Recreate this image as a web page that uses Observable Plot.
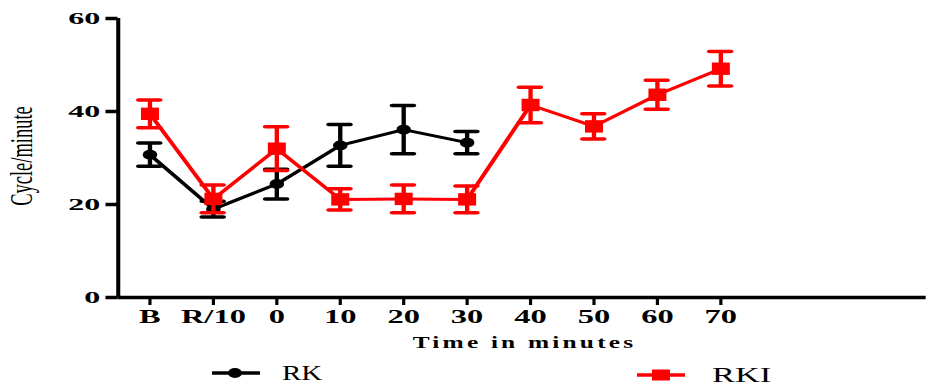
<!DOCTYPE html>
<html>
<head>
<meta charset="utf-8">
<script src="https://cdn.jsdelivr.net/npm/d3@7"></script>
<script src="https://cdn.jsdelivr.net/npm/@observablehq/plot@0.6"></script>
<style>
  html, body { margin: 0; padding: 0; background: #fff; }
  #chart { width: 930px; }
  svg g[aria-label="y-axis tick"] path, svg g[aria-label="y-axis"] .tick line { stroke-width: 3.5px; }
  svg g[aria-label="x-axis tick"] path, svg g[aria-label="x-axis"] .tick line { stroke-width: 2.2px; }
  svg g[aria-label="y-axis"] .domain, svg g[aria-label="x-axis"] .domain { display: none; }
</style>
</head>
<body>
<div id="chart"></div>
<script>
// ---- data ----
const xLabels = ["B", "R/10", "0", "10", "20", "30", "40", "50", "60", "70"];
const yTicks = [0, 20, 40, 60];
const rkMean = [30.7, 19.0, 24.4, 32.7, 36.1, 33.3];
const rkErr  = [2.5, 1.7, 3.2, 4.5, 5.2, 2.4];
const rkiMean = [39.5, 21.2, 32.0, 21.1, 21.2, 21.1, 41.4, 36.8, 43.6, 49.2];
const rkiErr  = [3.0, 3.0, 4.7, 2.3, 3.0, 2.9, 3.8, 2.7, 3.1, 3.7];
const seriesNames = ["RK", "RKI"];
const xTitle = "Time in minutes";
const yTitle = "Cycle/minute";

// ---- build tables ----
const rk = rkMean.map((m, i) => ({i, mean: m, lo: m - rkErr[i], hi: m + rkErr[i]}));
const rki = rkiMean.map((m, i) => ({i, mean: m, lo: m - rkiErr[i], hi: m + rkiErr[i]}));

const W0 = 641, H = 355;
const cap = 0.17;

function series(data, color, symbol, r) {
  return [
    Plot.line(data, {x: "i", y: "mean", stroke: color, strokeWidth: 3}),
    Plot.ruleX(data, {x: "i", y1: "lo", y2: "hi", stroke: color, strokeWidth: 3}),
    Plot.ruleY(data, {y: "hi", x1: d => d.i - cap, x2: d => d.i + cap, stroke: color, strokeWidth: 3.5, strokeLinecap: "round"}),
    Plot.ruleY(data, {y: "lo", x1: d => d.i - cap, x2: d => d.i + cap, stroke: color, strokeWidth: 3.5, strokeLinecap: "round"}),
    Plot.dot(data, {x: "i", y: "mean", fill: color, stroke: null, symbol, r})
  ];
}

const svg = Plot.plot({
  width: W0,
  height: H,
  marginLeft: 81,
  marginRight: 3,
  marginTop: 18,
  marginBottom: 58,
  style: {fontFamily: "'Liberation Serif', serif", fontSize: "18px", fontWeight: "bold", color: "black", background: "white", overflow: "visible"},
  x: {type: "linear", domain: [-0.5, 12.24], ticks: d3.range(xLabels.length), tickFormat: i => xLabels[i], tickSize: 8, tickPadding: 4, label: null},
  y: {domain: [0, 60], ticks: yTicks, tickSize: 8.3, tickPadding: 4, label: null},
  marks: [
    Plot.ruleY([0], {stroke: "black", strokeWidth: 3.5}),
    Plot.ruleX([-0.5], {y1: 0, y2: 60, stroke: "black", strokeWidth: 2.8}),
    ...series(rk, "black", "circle", 5),
    ...series(rki, "#ff0000", "square", 7)
  ]
});

// horizontal stretch of the whole figure
svg.setAttribute("viewBox", `0 0 ${W0} ${H}`);
svg.setAttribute("width", 930);
svg.setAttribute("height", H);
svg.setAttribute("preserveAspectRatio", "none");
svg.style.width = "930px";
svg.style.height = H + "px";
svg.style.maxWidth = "none";
svg.style.display = "block";

function stretchText(t, k) {
  const xa = t.getAttribute("x");
  const x = xa && !/em$/.test(xa) ? +xa : 0;
  if (xa && !/em$/.test(xa)) t.setAttribute("x", 0);
  const tr = t.getAttribute("transform") || "";
  t.setAttribute("transform", `${tr} translate(${x},0) scale(${k},1)`);
}
svg.querySelectorAll("text").forEach(t => {
  const gy = t.closest('g[aria-label^="y-axis"]');
  const gx = t.closest('g[aria-label^="x-axis"]');
  if (gy) { t.style.fontSize = "17px"; stretchText(t, 1.3); }
  else if (gx) { t.style.fontSize = "19px"; stretchText(t, 1.18); }
});

// axis titles
const s = d3.select(svg);
s.append("text")
  .attr("transform", `translate(${(81 + W0 - 3) / 2 + 2},348)`)
  .attr("text-anchor", "middle")
  .style("font-family", "'Liberation Serif', serif")
  .style("font-weight", "bold")
  .style("font-size", "17.5px")
  .style("letter-spacing", "2.2px")
  .text(xTitle);
s.append("text")
  .attr("transform", `translate(15,156) rotate(-90) scale(1,1.15)`)
  .attr("text-anchor", "middle")
  .attr("dy", "0.32em")
  .style("font-family", "'Liberation Serif', serif")
  .style("font-weight", "normal")
  .style("font-size", "18.5px")
  .text(yTitle);

document.getElementById("chart").appendChild(svg);

// legend below
const leg = d3.select("#chart").append("svg")
  .attr("width", 930).attr("height", 33)
  .style("display", "block");
const legItems = [
  {name: seriesNames[0], color: "black", x0: 212, x1: 260, cx: 235, tx: 282, cy: 18, k: 1.45, mark: "circle"},
  {name: seriesNames[1], color: "#ff0000", x0: 637, x1: 685, cx: 661, tx: 712, cy: 20, k: 1.72, mark: "square"}
];
legItems.forEach(d => {
  leg.append("line").attr("x1", d.x0).attr("x2", d.x1).attr("y1", d.cy).attr("y2", d.cy)
    .attr("stroke", d.color).attr("stroke-width", 3.5);
  if (d.mark === "circle") {
    leg.append("ellipse").attr("cx", d.cx).attr("cy", d.cy).attr("rx", 7).attr("ry", 5).attr("fill", d.color);
  } else {
    leg.append("rect").attr("x", d.cx - 9).attr("y", d.cy - 5.5).attr("width", 18).attr("height", 11).attr("fill", d.color);
  }
  leg.append("text").attr("transform", `translate(${d.tx},${d.cy + 6.5}) scale(${d.k},1)`)
    .style("font-family", "'Liberation Serif', serif").style("font-size", "20px")
    .text(d.name);
});
</script>
</body>
</html>
